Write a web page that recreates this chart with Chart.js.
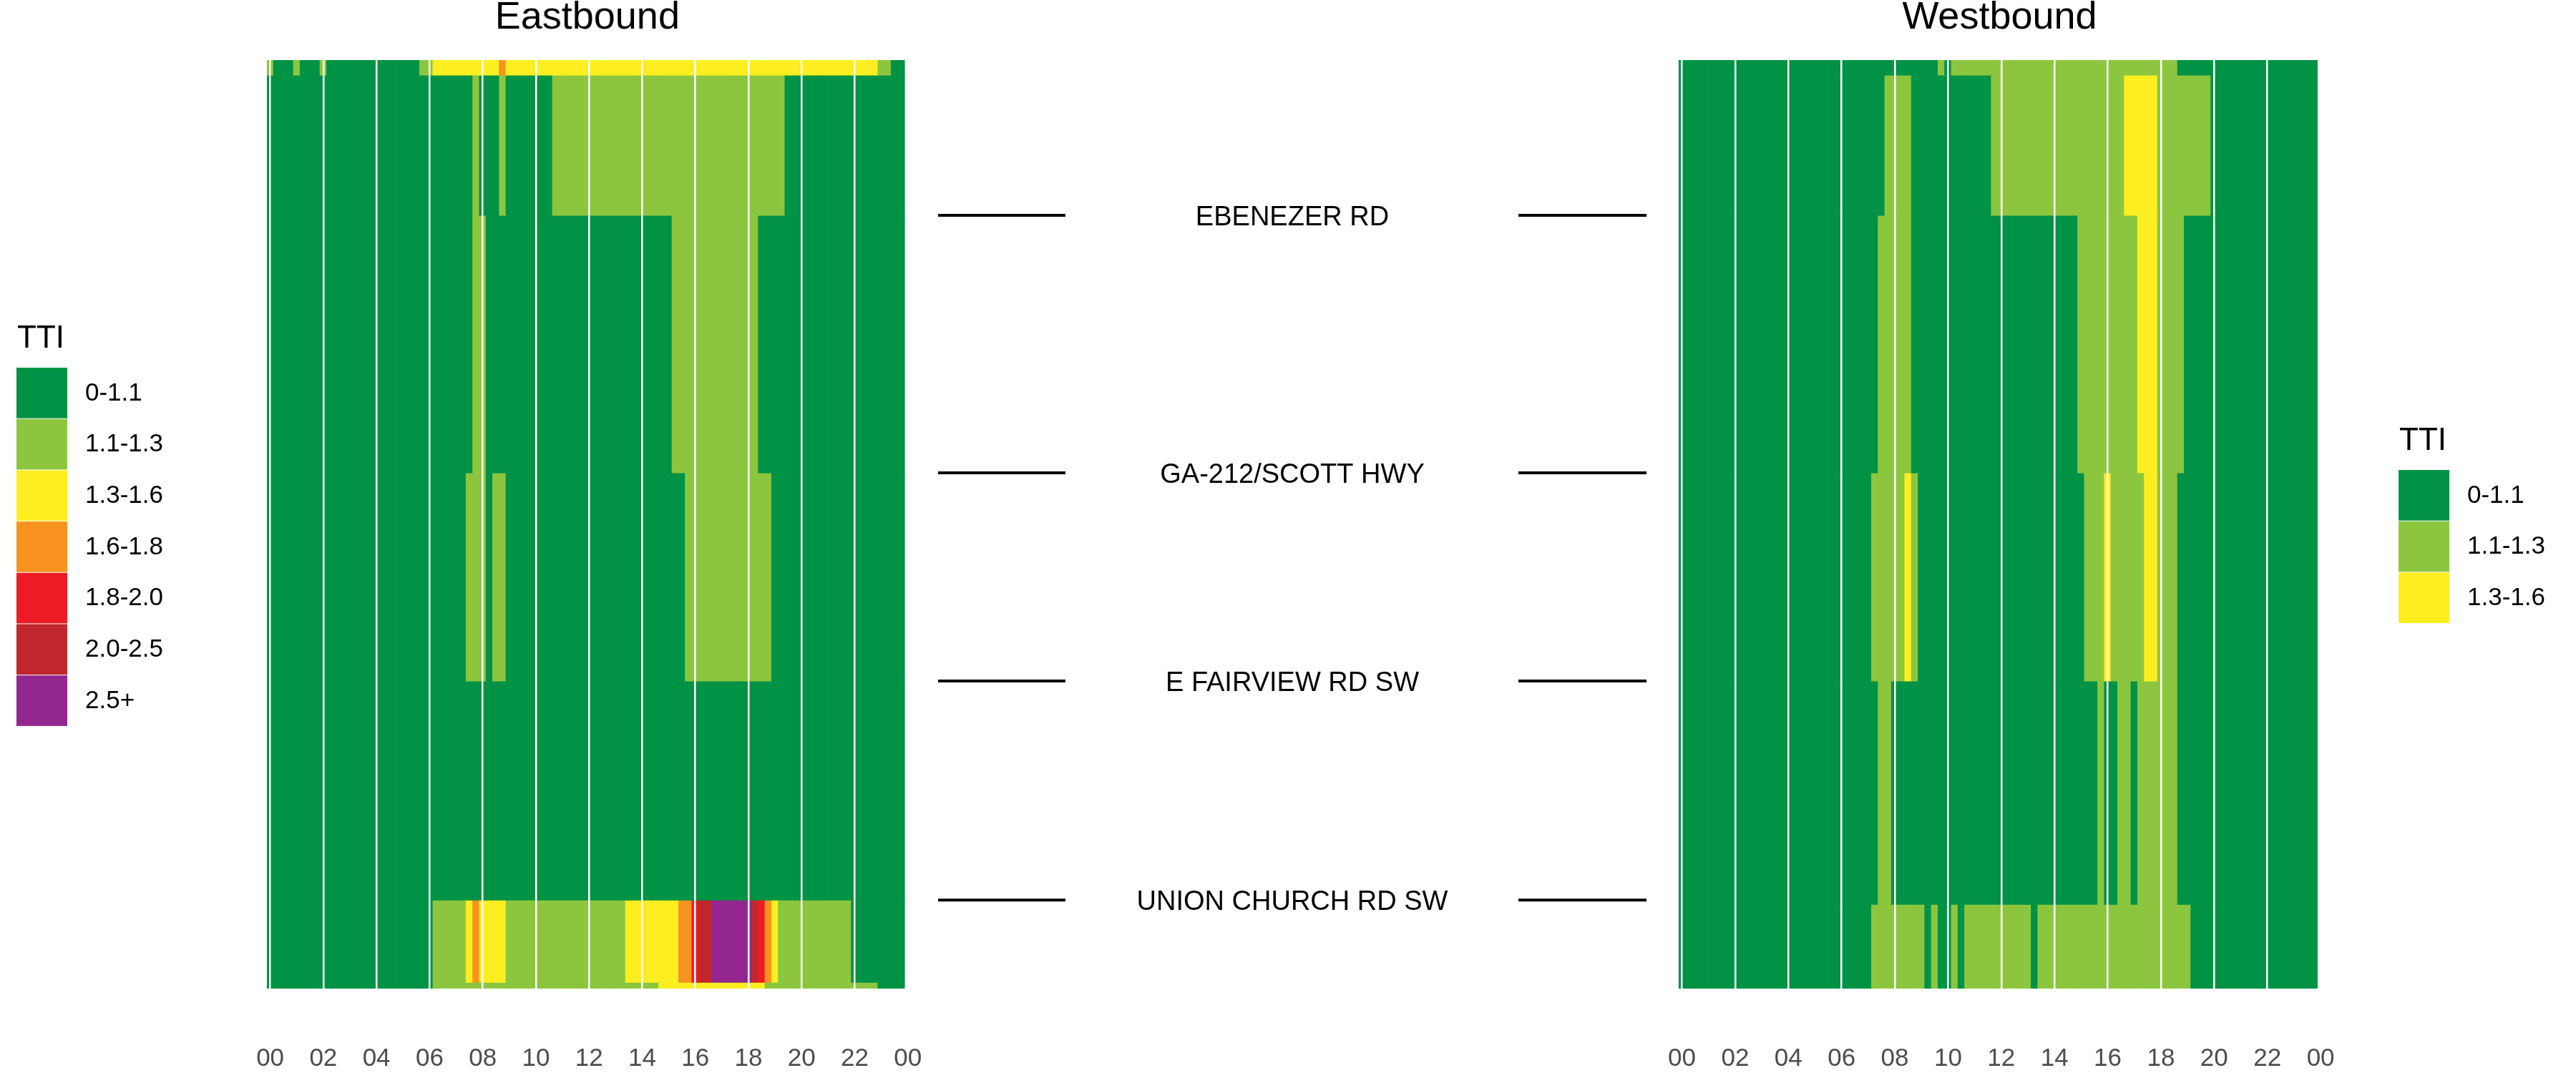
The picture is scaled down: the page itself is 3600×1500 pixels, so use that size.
<!DOCTYPE html>
<html>
<head>
<meta charset="utf-8">
<script src="https://cdn.jsdelivr.net/npm/chart.js@4.4.1/dist/chart.umd.min.js"></script>
<style>
html, body { margin: 0; padding: 0; background: #ffffff; }
#wrap { position: relative; width: 3600px; height: 1500px; overflow: hidden; }
#wrap canvas { position: absolute; left: 0; top: 0; }
</style>
</head>
<body>
<div id="wrap">
  <canvas id="eb" width="3600" height="1500"></canvas>
  <canvas id="wb" width="3600" height="1500"></canvas>
</div>
<script>
// ---------------- DATA ----------------
const TIME_BINS = [
  "00:00","00:15","00:30","00:45","01:00","01:15","01:30","01:45",
  "02:00","02:15","02:30","02:45","03:00","03:15","03:30","03:45",
  "04:00","04:15","04:30","04:45","05:00","05:15","05:30","05:45",
  "06:00","06:15","06:30","06:45","07:00","07:15","07:30","07:45",
  "08:00","08:15","08:30","08:45","09:00","09:15","09:30","09:45",
  "10:00","10:15","10:30","10:45","11:00","11:15","11:30","11:45",
  "12:00","12:15","12:30","12:45","13:00","13:15","13:30","13:45",
  "14:00","14:15","14:30","14:45","15:00","15:15","15:30","15:45",
  "16:00","16:15","16:30","16:45","17:00","17:15","17:30","17:45",
  "18:00","18:15","18:30","18:45","19:00","19:15","19:30","19:45",
  "20:00","20:15","20:30","20:45","21:00","21:15","21:30","21:45",
  "22:00","22:15","22:30","22:45","23:00","23:15","23:30","23:45"
];
const X_TICK_HOURS  = [0, 2, 4, 6, 8, 10, 12, 14, 16, 18, 20, 22, 24];
const X_TICK_LABELS = ["00","02","04","06","08","10","12","14","16","18","20","22","00"];

const LEGEND_TITLE = "TTI";
const TTI_LABELS = ["0-1.1","1.1-1.3","1.3-1.6","1.6-1.8","1.8-2.0","2.0-2.5","2.5+"];
const TTI_COLORS = ["#009245","#8CC63F","#FCEE21","#F7931E","#ED1C24","#C1272D","#93278F"];

const PANEL_TITLES = ["Eastbound", "Westbound"];

// segment lengths (miles), top of corridor to bottom
const EB_SEGMENT_MILES = [0.081, 0.755, 1.387, 1.121, 1.179, 0.443, 0.034];
const WB_SEGMENT_MILES = [0.081, 0.755, 1.387, 1.121, 1.202, 0.454];

// TTI class per 15-minute bin (0..6 = index in TTI_LABELS), grouped by hour
const EB_TTI = [
  "1000 1000 1000 0000 0000 0001 1222 2222 2223 2222 2222 2222 2222 2222 2222 2222 2222 2222 2222 2222 2222 2222 2222 1100",
  "0000 0000 0000 0000 0000 0000 0000 0001 0001 0000 0001 1111 1111 1111 1111 1111 1111 1111 1111 1100 0000 0000 0000 0000",
  "0000 0000 0000 0000 0000 0000 0000 0001 1000 0000 0000 0000 0000 0000 0000 0111 1111 1111 1100 0000 0000 0000 0000 0000",
  "0000 0000 0000 0000 0000 0000 0000 0011 1011 0000 0000 0000 0000 0000 0000 0001 1111 1111 1111 0000 0000 0000 0000 0000",
  "0000 0000 0000 0000 0000 0000 0000 0000 0000 0000 0000 0000 0000 0000 0000 0000 0000 0000 0000 0000 0000 0000 0000 0000",
  "0000 0000 0000 0000 0000 0000 0111 1123 2222 1111 1111 1111 1111 1122 2222 2233 4556 6666 6543 2111 1111 1111 0000 0000",
  "0000 0000 0000 0000 0000 0000 0111 1111 1111 1111 1111 1111 1111 1111 1112 2222 2222 2222 2221 1111 1111 1111 1111 0000"
];
const WB_TTI = [
  "0000 0000 0000 0000 0000 0000 0000 0000 0000 0001 0111 1111 1111 1111 1111 1111 1111 1111 1110 0000 0000 0000 0000 0000",
  "0000 0000 0000 0000 0000 0000 0000 0001 1110 0000 0000 0001 1111 1111 1111 1111 1112 2222 1111 1111 0000 0000 0000 0000",
  "0000 0000 0000 0000 0000 0000 0000 0011 1110 0000 0000 0000 0000 0000 0000 1111 1111 1222 1111 0000 0000 0000 0000 0000",
  "0000 0000 0000 0000 0000 0000 0000 0111 1121 0000 0000 0000 0000 0000 0000 0111 2111 1122 1110 0000 0000 0000 0000 0000",
  "0000 0000 0000 0000 0000 0000 0000 0011 0000 0000 0000 0000 0000 0000 0000 0001 0011 0111 1110 0000 0000 0000 0000 0000",
  "0000 0000 0000 0000 0000 0000 0000 0111 1111 1010 0101 1111 1111 1011 1111 1111 1111 1111 1111 1000 0000 0000 0000 0000"
];

const ROAD_LABELS = ["EBENEZER RD", "GA-212/SCOTT HWY", "E FAIRVIEW RD SW", "UNION CHURCH RD SW"];
const ROAD_AFTER_SEGMENT = [1, 2, 3, 4];   // cross street lies at the end of this segment

// ---------------- BUILD ----------------
const FONT = "'Liberation Sans', Arial, Helvetica, sans-serif";
const hoursOf = s => { const [h, m] = s.split(":").map(Number); return h + m / 60; };
const codesOf = row => row.replace(/\s+/g, "").split("").map(Number);

function makeDatasets(segMiles, rows) {
  return segMiles.map((len, s) => {
    const codes = codesOf(rows[s]);
    return {
      label: "segment " + (s + 1),
      data: TIME_BINS.map(tb => ({ x: hoursOf(tb), y: len })),
      backgroundColor: codes.map(c => TTI_COLORS[c]),
      borderWidth: 0,
      barPercentage: 1,
      categoryPercentage: 1,
      inflateAmount: 0.5
    };
  });
}

function drawLegend(ctx, x, yTitle, yTop, n) {
  ctx.save();
  ctx.textAlign = "left";
  ctx.fillStyle = "#000";
  ctx.font = "44px " + FONT;
  ctx.textBaseline = "alphabetic";
  ctx.fillText(LEGEND_TITLE, x + 1, yTitle);
  for (let i = 0; i < n; i++) {
    const y = yTop + i * 71.7;
    ctx.fillStyle = TTI_COLORS[i];
    ctx.fillRect(x, y, 71, 70.7);
    ctx.fillStyle = "#000";
    ctx.font = "35px " + FONT;
    ctx.textBaseline = "middle";
    ctx.fillText(TTI_LABELS[i], x + 96, y + 36);
  }
  ctx.restore();
}

function decorPlugin(title, legend, drawRoads, segMiles) {
  return {
    id: "decor",
    afterDraw(chart) {
      const ctx = chart.ctx;
      const ca = chart.chartArea;
      ctx.save();
      ctx.fillStyle = "#000";
      ctx.font = "54px " + FONT;
      ctx.textAlign = "center";
      ctx.textBaseline = "alphabetic";
      ctx.fillText(title, (ca.left + ca.right) / 2, 40);
      ctx.restore();
      drawLegend(ctx, legend.x, legend.yTitle, legend.yTop, legend.n);
      if (drawRoads) {
        const ys = chart.scales.y;
        let acc = 0;
        const cum = segMiles.map(v => (acc += v));
        ctx.save();
        ctx.strokeStyle = "#000";
        ctx.lineWidth = 4;
        ctx.fillStyle = "#000";
        ctx.font = "38px " + FONT;
        ctx.textAlign = "center";
        ctx.textBaseline = "alphabetic";
        ROAD_LABELS.forEach((lab, i) => {
          const y = ys.getPixelForValue(cum[ROAD_AFTER_SEGMENT[i]]);
          ctx.beginPath();
          ctx.moveTo(1311, y); ctx.lineTo(1489, y);
          ctx.moveTo(2122, y); ctx.lineTo(2301, y);
          ctx.stroke();
          ctx.fillText(lab, 1806, y + 13.5);
        });
        ctx.restore();
      }
    }
  };
}

function makeChart(id, segMiles, rows, padLeft, padRight, title, legend, drawRoads) {
  return new Chart(document.getElementById(id), {
    type: "bar",
    data: { datasets: makeDatasets(segMiles, rows) },
    options: {
      responsive: false,
      animation: false,
      devicePixelRatio: 1,
      events: [],
      layout: { padding: { left: padLeft, right: padRight, top: 84, bottom: 0 } },
      plugins: { legend: { display: false }, tooltip: { enabled: false }, title: { display: false } },
      scales: {
        x: {
          type: "linear",
          stacked: true,
          offset: false,
          min: -0.125,
          max: 24,
          afterBuildTicks: s => { s.ticks = X_TICK_HOURS.map(v => ({ value: v })); },
          afterFit: s => { s.height = 118; s.paddingLeft = 0; s.paddingRight = 0; },
          grid: { color: "#ffffff", lineWidth: 2.5, drawTicks: false, z: 1, offset: false },
          border: { display: false },
          ticks: {
            padding: 77,
            color: "#4D4D4D",
            font: { family: FONT, size: 35 },
            maxRotation: 0,
            autoSkip: false,
            callback: (v, i) => X_TICK_LABELS[i]
          }
        },
        y: { type: "linear", stacked: true, reverse: true, min: 0, max: 5, display: false }
      }
    },
    plugins: [decorPlugin(title, legend, drawRoads, segMiles)]
  });
}

makeChart("eb", EB_SEGMENT_MILES, EB_TTI, 372.96, 3600 - 1268.7, PANEL_TITLES[0],
  { x: 23, yTitle: 486, yTop: 514, n: 7 }, true);
makeChart("wb", WB_SEGMENT_MILES, WB_TTI, 2345.85, 3600 - 3243.1, PANEL_TITLES[1],
  { x: 3352, yTitle: 629, yTop: 657, n: 3 }, false);
</script>
</body>
</html>
